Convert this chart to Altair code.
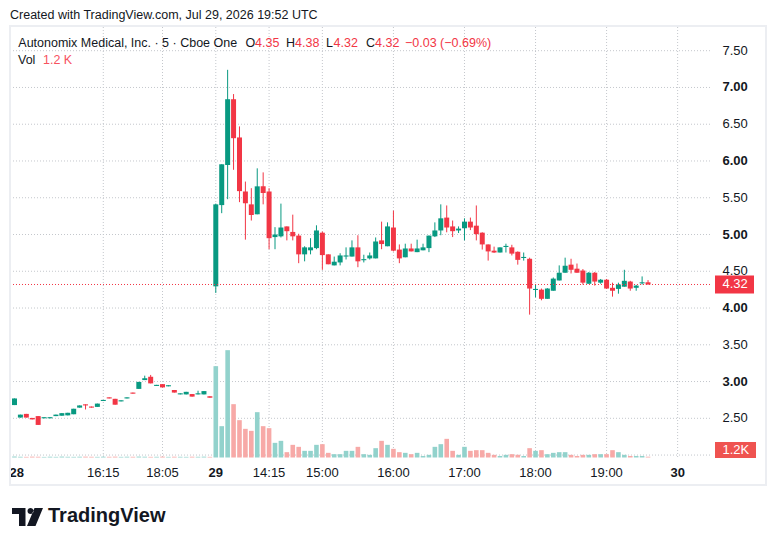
import altair as alt
import pandas as pd

FONT = "Liberation Sans"
TXT = "#131722"
GREEN = "#089981"
RED = "#F23645"
VGREEN = "#92d2cc"
VRED = "#f7a9a7"
GRID = "#c4c7cc"

# ---- Jul 28, 5-minute bars ----
o28 = [2.68, 2.51, 2.56, 2.505, 2.53, 2.50, 2.50, 2.53, 2.535, 2.54, 2.555, 2.645, 2.69, 2.66, 2.655, 2.735, 2.785,
       2.765, 2.73, 2.77, 2.85, 2.90, 3.02, 3.065, 2.94, 2.965, 2.935, 2.885, 2.825, 2.825, 2.83, 2.825, 2.825, 2.80]
h28 = [2.77, 2.55, 2.56, 2.505, 2.53, 2.515, 2.515, 2.55, 2.57, 2.575, 2.63, 2.675, 2.69, 2.66, 2.70, 2.75, 2.785,
       2.765, 2.745, 2.785, 2.85, 2.995, 3.08, 3.09, 2.955, 2.965, 2.95, 2.885, 2.84, 2.86, 2.83, 2.875, 2.87, 2.80]
l28 = [2.68, 2.51, 2.51, 2.485, 2.41, 2.50, 2.50, 2.53, 2.535, 2.54, 2.555, 2.645, 2.62, 2.645, 2.655, 2.735, 2.77,
       2.685, 2.73, 2.77, 2.835, 2.90, 3.02, 2.975, 2.94, 2.92, 2.935, 2.85, 2.825, 2.825, 2.795, 2.825, 2.825, 2.78]
c28 = [2.77, 2.55, 2.51, 2.485, 2.41, 2.515, 2.515, 2.55, 2.57, 2.575, 2.63, 2.675, 2.675, 2.645, 2.70, 2.75, 2.77,
       2.685, 2.745, 2.785, 2.835, 2.995, 3.045, 2.975, 2.955, 2.92, 2.95, 2.85, 2.84, 2.86, 2.795, 2.84, 2.87, 2.78]
v28 = [1.5, 1.2, 1.0, 1.3, 1.1, 0.9, 1.2, 1.0, 1.4, 1.1, 1.0, 1.2, 1.3, 1.1, 1.0, 1.2, 1.1,
       1.3, 1.0, 1.2, 1.1, 1.4, 1.2, 1.0, 1.1, 1.3, 1.0, 1.2, 1.1, 1.0, 1.2, 1.1, 1.3, 1.0]

# ---- Jul 29, 5-minute bars (13:30 UTC onward) ----
o29 = [4.295, 5.40, 5.945, 6.84, 6.32, 5.585, 5.41, 5.275, 5.655, 5.585,
       4.965, 4.975, 5.11, 5.035, 4.985, 4.73, 4.785, 4.815, 5.025, 4.73,
       4.58, 4.62, 4.70, 4.70, 4.825, 4.65, 4.675, 4.675, 4.92, 4.84,
       5.095, 4.795, 4.69, 4.81, 4.76, 4.785, 4.815, 4.975, 5.055, 5.23,
       5.11, 5.055, 5.085, 5.175, 5.12, 5.025, 4.865, 4.78, 4.755, 4.83,
       4.825, 4.765, 4.68, 4.67, 4.245, 4.25, 4.125, 4.235, 4.375, 4.48,
       4.59, 4.535, 4.51, 4.33, 4.48, 4.345, 4.385, 4.275, 4.26, 4.29,
       4.36, 4.275, 4.335, 4.35]
h29 = [5.42, 5.955, 7.24, 6.91, 6.47, 5.72, 5.63, 5.90, 5.845, 5.63,
       5.10, 5.42, 5.11, 5.27, 5.01, 4.84, 4.95, 5.125, 5.04, 4.73,
       4.70, 4.745, 4.825, 4.92, 4.99, 4.725, 4.755, 4.96, 5.175, 5.165,
       5.325, 4.865, 4.875, 4.875, 4.93, 4.875, 4.985, 5.165, 5.41, 5.395,
       5.19, 5.11, 5.22, 5.23, 5.395, 5.03, 4.865, 4.835, 4.825, 4.875,
       4.86, 4.77, 4.755, 4.685, 4.325, 4.265, 4.27, 4.415, 4.58, 4.685,
       4.67, 4.605, 4.53, 4.49, 4.49, 4.395, 4.395, 4.345, 4.345, 4.52,
       4.37, 4.315, 4.43, 4.38]
l29 = [4.205, 5.29, 5.48, 5.88, 5.44, 4.93, 5.19, 5.275, 5.41, 4.80,
       4.80, 4.96, 4.92, 4.92, 4.61, 4.635, 4.73, 4.80, 4.52, 4.595,
       4.58, 4.58, 4.66, 4.70, 4.555, 4.62, 4.66, 4.675, 4.80, 4.84,
       4.77, 4.61, 4.69, 4.77, 4.76, 4.785, 4.76, 4.965, 4.99, 5.03,
       4.965, 5.02, 4.92, 5.06, 4.92, 4.795, 4.645, 4.75, 4.755, 4.755,
       4.715, 4.59, 4.645, 3.91, 4.145, 4.105, 4.125, 4.235, 4.375, 4.48,
       4.47, 4.48, 4.32, 4.33, 4.305, 4.33, 4.26, 4.155, 4.195, 4.29,
       4.235, 4.235, 4.32, 4.32]
c29 = [5.41, 5.955, 6.84, 6.31, 5.59, 5.425, 5.265, 5.655, 5.565, 4.95,
       5.00, 5.095, 5.045, 4.975, 4.73, 4.825, 4.825, 5.055, 4.72, 4.595,
       4.63, 4.715, 4.715, 4.825, 4.635, 4.665, 4.715, 4.905, 4.87, 5.11,
       4.78, 4.675, 4.81, 4.77, 4.81, 4.825, 4.985, 5.055, 5.22, 5.095,
       5.045, 5.08, 5.175, 5.095, 5.005, 4.865, 4.77, 4.755, 4.825, 4.845,
       4.74, 4.655, 4.695, 4.265, 4.26, 4.125, 4.265, 4.40, 4.48, 4.575,
       4.52, 4.48, 4.345, 4.48, 4.36, 4.385, 4.265, 4.235, 4.32, 4.37,
       4.265, 4.305, 4.35, 4.32]
v29 = [137, 47, 161, 80, 56, 43, 40, 68, 47, 44,
       22, 25, 8, 19, 16, 10, 10, 19, 20, 7,
       5, 5, 10, 10, 16, 5, 4, 14, 25, 19,
       13, 8, 7, 5, 7, 2.3, 4, 16, 20, 28,
       10, 4, 16, 10, 11, 11, 7, 4, 2.3, 4,
       5, 4, 2.3, 14, 10, 11, 5, 7, 8, 8,
       4, 2.3, 4, 4, 5, 5, 5, 11, 8, 4,
       2.3, 2.3, 2.3, 1.2]

# time axis: bar index of each label
time_ticks = [15, 25, 34, 43, 52, 64, 76, 88, 100, 112]
time_labels = ["16:15", "18:05", "29", "14:15", "15:00", "16:00", "17:00", "18:00", "19:00", "30"]
day_labels = ["29", "30"]
first_day_label = "28"

grid_prices = [2.0, 2.5, 3.0, 3.5, 4.0, 4.5, 5.0, 5.5, 6.0, 6.5, 7.0, 7.5]
label_prices = [2.5, 3.0, 3.5, 4.0, 4.5, 5.0, 5.5, 6.0, 6.5, 7.0, 7.5]

# ---- tables ----
n28 = len(o28)
bars = pd.DataFrame({
    "g": list(range(n28 + len(o29))),
    "o": o28 + o29, "h": h28 + h29, "l": l28 + l29, "c": c28 + c29, "v": v28 + v29,
})
bars["d"] = ["u" if c >= o else "d" for o, c in zip(bars["o"], bars["c"])]
bars["zero"] = 0.0

XS = alt.Scale(domain=[-0.25, 126.4167], nice=False, zero=False)
PS = alt.Scale(domain=[0.8719, 8.0808], nice=False, zero=False)
VS = alt.Scale(domain=[-120.75, 674.25], nice=False, zero=False)


def X():
    return alt.X("g:Q", scale=XS, axis=None)


def PY(f):
    return alt.Y(f, scale=PS, axis=None)


one = pd.DataFrame({"z": [0]})


def label(text, x, y, color=TXT, size=13, weight="normal", align="left", baseline="alphabetic"):
    return alt.Chart(pd.DataFrame({"t": [text]})).mark_text(
        align=align, baseline=baseline, font=FONT, fontSize=size, fontWeight=weight, color=color
    ).encode(x=alt.value(x), y=alt.value(y), text="t:N")


layers = []

# grid
hgrid = alt.Chart(pd.DataFrame({"p": grid_prices})).mark_rule(
    color=GRID, strokeWidth=1, strokeDash=[1, 2]
).encode(y=PY("p:Q"), x=alt.value(2), x2=alt.value(702))
vgrid = alt.Chart(pd.DataFrame({"g": time_ticks})).mark_rule(
    color=GRID, strokeWidth=1, strokeDash=[1, 2]
).encode(x=X(), y=alt.value(19), y2=alt.value(451))
layers += [hgrid, vgrid]

# volume
vol = alt.Chart(bars).mark_bar(size=4.6).encode(
    x=X(),
    y=alt.Y("v:Q", scale=VS, axis=None),
    y2="zero",
    color=alt.Color("d:N", scale=alt.Scale(domain=["u", "d"], range=[VGREEN, VRED]), legend=None),
)
layers.append(vol)

# candles
ccol = alt.Color("d:N", scale=alt.Scale(domain=["u", "d"], range=[GREEN, RED]), legend=None)
wicks = alt.Chart(bars).mark_rule(strokeWidth=1).encode(x=X(), y=PY("l:Q"), y2="h", color=ccol)
bodies = alt.Chart(bars).mark_bar(size=5).encode(x=X(), y=PY("o:Q"), y2="c", color=ccol)
layers += [wicks, bodies]

# last price line
last = pd.DataFrame({"p": [c29[-1]]})
pline = alt.Chart(last).mark_rule(color=RED, strokeWidth=1, strokeDash=[1, 2]).encode(
    y=PY("p:Q"), x=alt.value(2), x2=alt.value(702))
layers.append(pline)

# price axis labels
plab = pd.DataFrame({"p": label_prices, "t": [f"{p:.2f}" for p in label_prices]})
plab["b"] = [p == int(p) for p in label_prices]
for bold in (False, True):
    layers.append(
        alt.Chart(plab[plab["b"] == bold]).mark_text(
            align="left", baseline="middle", font=FONT, fontSize=13,
            fontWeight="bold" if bold else "normal", color=TXT
        ).encode(y=PY("p:Q"), x=alt.value(714.5), text="t:N")
    )

# last price badge
badge = "M-1,-0.4615L1,-0.4615L1,0.4615L-1,0.4615Z"
layers.append(alt.Chart(last).mark_point(shape=badge, filled=True, size=39 * 39, color=RED, opacity=1,
                                         strokeWidth=0).encode(x=alt.value(726.5), y=PY("p:Q")))
layers.append(alt.Chart(last.assign(t=[f"{c29[-1]:.2f}"])).mark_text(
    align="left", baseline="middle", font=FONT, fontSize=13, color="white"
).encode(x=alt.value(714.5), y=PY("p:Q"), text="t:N"))

# volume badge
vbadge = "M-1,-0.39L1,-0.39L1,0.39L-1,0.39Z"
layers.append(alt.Chart(one).mark_point(shape=vbadge, filled=True, size=41 * 41, color="#ef5350", opacity=1,
                                        strokeWidth=0).encode(x=alt.value(727.5), y=alt.value(442)))
layers.append(label(f"{v29[-1]:.1f}K", 714.5, 442, color="white", baseline="middle"))

# time axis labels
tl = pd.DataFrame({"g": time_ticks, "t": time_labels})
tl["b"] = [t in day_labels for t in time_labels]
for bold in (False, True):
    layers.append(
        alt.Chart(tl[tl["b"] == bold]).mark_text(
            align="center", baseline="middle", font=FONT, fontSize=13,
            fontWeight="bold" if bold else "normal", color=TXT
        ).encode(x=X(), y=alt.value(465.3), text="t:N")
    )
layers.append(label(first_day_label, 1.5, 465.3, weight="bold", baseline="middle"))

# legend / header
layers.append(label("Created with TradingView.com, Jul 29, 2026 19:52 UTC", 2, 11.3, size=12.5))
y2 = 38.7
chg = c29[-1] - c29[-2]
pct = chg / c29[-2] * 100
FS = 12.5
layers += [
    label("Autonomix Medical, Inc. · 5 · Cboe One", 10.3, y2, size=FS),
    label("O", 237.5, y2, size=FS), label(f"{o29[-1]:.2f}", 247, y2, color=RED, size=FS),
    label("H", 278, y2, size=FS), label(f"{h29[-1]:.2f}", 287, y2, color=RED, size=FS),
    label("L", 318, y2, size=FS), label(f"{l29[-1]:.2f}", 325.5, y2, color=RED, size=FS),
    label("C", 358, y2, size=FS), label(f"{c29[-1]:.2f}", 367, y2, color=RED, size=FS),
    label(f"\u2212{abs(chg):.2f} (\u2212{abs(pct):.2f}%)", 397, y2, color=RED, size=FS),
    label("Vol", 10, 56, size=FS),
    label(f"{v29[-1]:.1f} K", 35, 56, color="#F7525F", size=FS),
]

# frame
layers.append(alt.Chart(one).mark_rect(fill="white").encode(
    x=alt.value(0), x2=alt.value(2), y=alt.value(0), y2=alt.value(480)))
layers.append(alt.Chart(one).mark_rect(fillOpacity=0, stroke="#eceef2", strokeWidth=2).encode(
    x=alt.value(2), x2=alt.value(758), y=alt.value(18), y2=alt.value(477)))

# logo
logo = ("M-0.968,-0.581L-0.097,-0.581L-0.097,0.581L-0.516,0.581L-0.516,-0.194L-0.968,-0.194Z "
        "M0.032,-0.387A0.194,0.194 0 1,0 0.42,-0.387A0.194,0.194 0 1,0 0.032,-0.387Z "
        "M0.484,-0.581L1.032,-0.581L0.548,0.581L0.0,0.581Z")
layers.append(alt.Chart(one).mark_point(shape=logo, filled=True, size=31 * 31, color=TXT, opacity=1,
                                        strokeWidth=0).encode(x=alt.value(19), y=alt.value(509)))
layers.append(label("TradingView", 40, 514, size=20, weight="bold"))

chart = alt.layer(*layers).resolve_scale(y="independent", color="independent").properties(
    width=760, height=530, padding=0, autosize=alt.AutoSizeParams(type="none")
).configure_view(stroke=None)

chart.save("out.html", embed_options={"renderer": "svg", "actions": False})
